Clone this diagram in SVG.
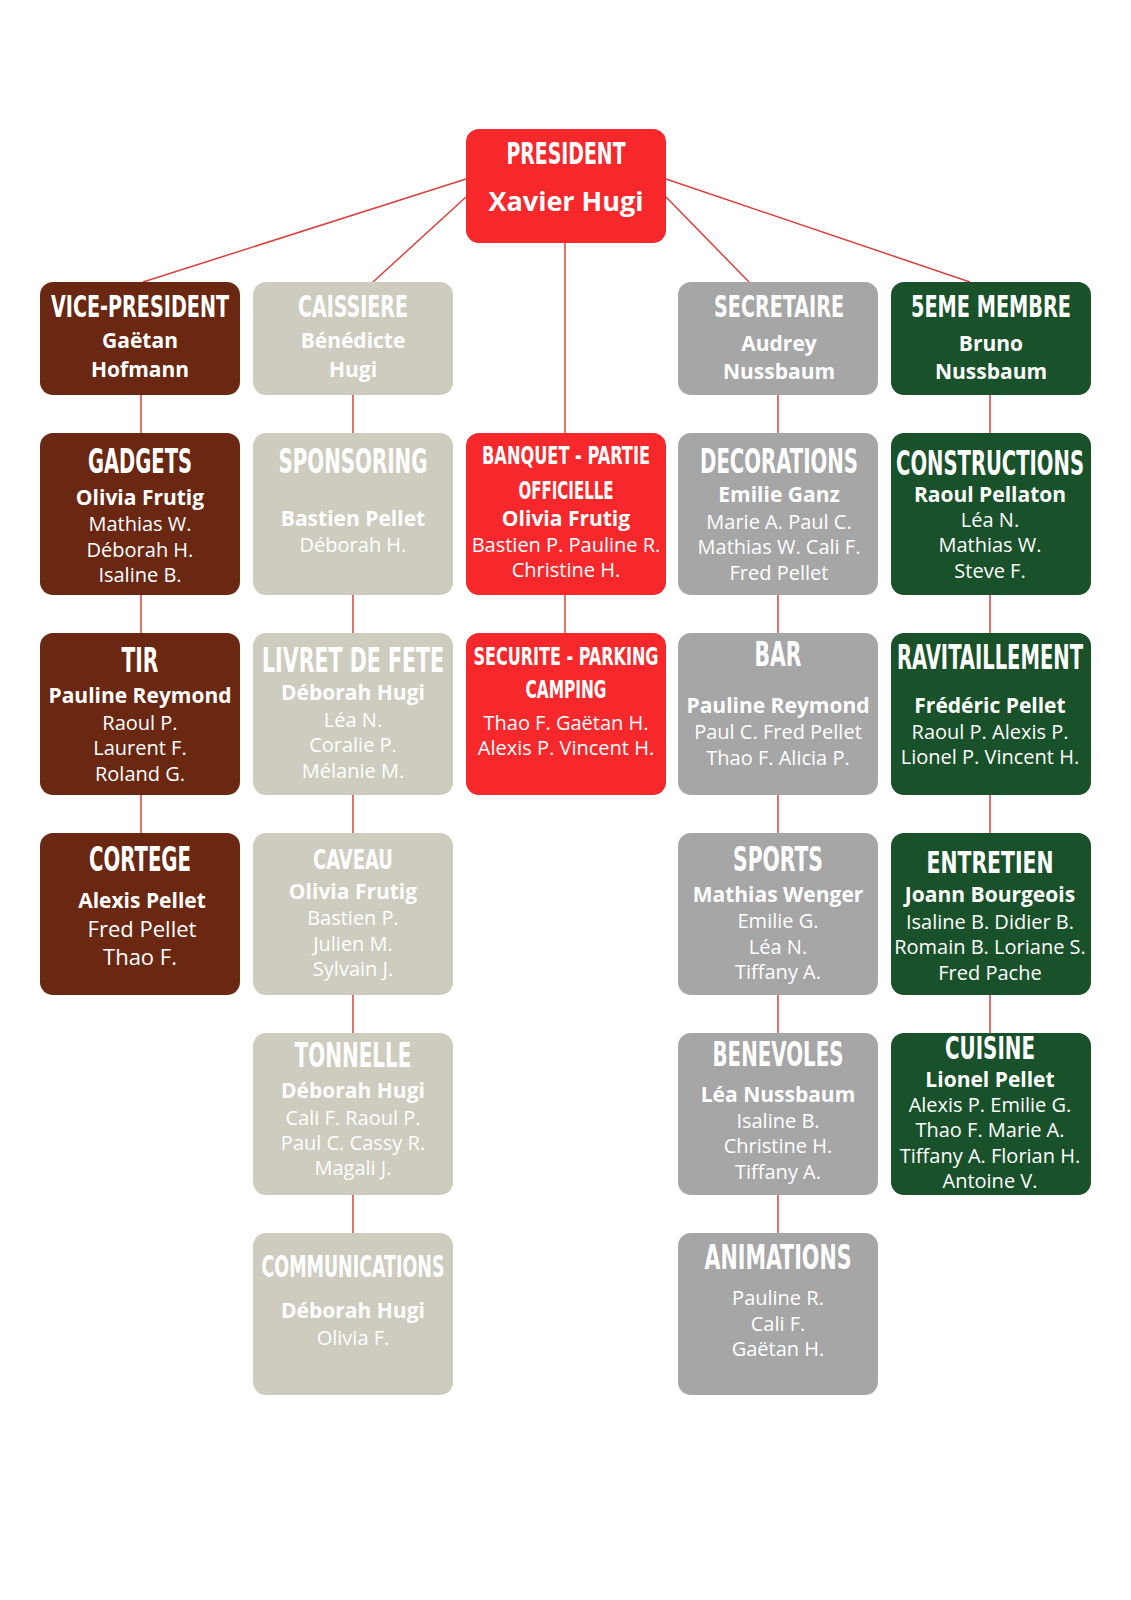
<svg xmlns="http://www.w3.org/2000/svg" width="1131" height="1600" viewBox="0 0 1131 1600">
<style>
.bg{fill:#ffffff}
.brown{fill:#6a2711}
.beige{fill:#cdccbe}
.red{fill:#f7282b}
.gray{fill:#a6a6a6}
.green{fill:#18512a}
.h{font-family:'DejaVu Sans Condensed','Liberation Sans Narrow',sans-serif;font-weight:bold;fill:#ffffff;text-anchor:middle;font-size:33px}
.hs{font-size:30px}
.hx{font-size:24px}
.b{font-family:'Open Sans','DejaVu Sans',sans-serif;font-weight:700;font-size:21px;fill:#ffffff;text-anchor:middle}
.r{font-family:'Open Sans','DejaVu Sans',sans-serif;font-weight:400;font-size:20px;fill:#ffffff;text-anchor:middle}
.big{font-size:22px}
.conn{stroke:#d9403c;stroke-width:1.5;fill:none}
</style>
<rect class="bg" x="0" y="0" width="1131" height="1600"/>
<g id="connectors">
<line class="conn" x1="466" y1="179" x2="143" y2="282"/>
<line class="conn" x1="466" y1="197" x2="373" y2="282"/>
<line class="conn" x1="666" y1="179" x2="970" y2="282"/>
<line class="conn" x1="666" y1="197" x2="749" y2="282"/>
<line class="conn" x1="565" y1="243" x2="565" y2="433"/>
<line class="conn" x1="565" y1="595" x2="565" y2="633"/>
<line class="conn" x1="141" y1="395" x2="141" y2="433"/>
<line class="conn" x1="141" y1="595" x2="141" y2="633"/>
<line class="conn" x1="141" y1="795" x2="141" y2="833"/>
<line class="conn" x1="353" y1="395" x2="353" y2="433"/>
<line class="conn" x1="353" y1="595" x2="353" y2="633"/>
<line class="conn" x1="353" y1="795" x2="353" y2="833"/>
<line class="conn" x1="353" y1="995" x2="353" y2="1033"/>
<line class="conn" x1="353" y1="1195" x2="353" y2="1233"/>
<line class="conn" x1="778" y1="395" x2="778" y2="433"/>
<line class="conn" x1="778" y1="595" x2="778" y2="633"/>
<line class="conn" x1="778" y1="795" x2="778" y2="833"/>
<line class="conn" x1="778" y1="995" x2="778" y2="1033"/>
<line class="conn" x1="778" y1="1195" x2="778" y2="1233"/>
<line class="conn" x1="990" y1="395" x2="990" y2="433"/>
<line class="conn" x1="990" y1="595" x2="990" y2="633"/>
<line class="conn" x1="990" y1="795" x2="990" y2="833"/>
<line class="conn" x1="990" y1="995" x2="990" y2="1033"/>
</g>

<g id="president">
<rect class="red" x="466" y="129" width="200" height="114" rx="13"/>
<text class="h hs" x="566" y="164" textLength="119" lengthAdjust="spacingAndGlyphs">PRESIDENT</text>
<text class="b" x="566" y="211" style="font-size:27px">Xavier Hugi</text>
</g>

<g id="vice-president">
<rect class="brown" x="40" y="282" width="200" height="113" rx="13"/>
<text class="h" style="font-size:19.4px" transform="translate(140,317) scale(1,1.55)" x="0" y="0" textLength="178" lengthAdjust="spacingAndGlyphs">VICE-PRESIDENT</text>
<text class="b" x="140" y="348">Gaëtan</text>
<text class="b" x="140" y="377">Hofmann</text>
</g>

<g id="caissiere">
<rect class="beige" x="253" y="282" width="200" height="113" rx="13"/>
<text class="h hs" x="353" y="317" textLength="110" lengthAdjust="spacingAndGlyphs">CAISSIERE</text>
<text class="b" x="353" y="348">Bénédicte</text>
<text class="b" x="353" y="377">Hugi</text>
</g>

<g id="secretaire">
<rect class="gray" x="678" y="282" width="200" height="113" rx="13"/>
<text class="h hs" x="779" y="317" textLength="130" lengthAdjust="spacingAndGlyphs">SECRETAIRE</text>
<text class="b" x="779" y="351">Audrey</text>
<text class="b" x="779" y="379">Nussbaum</text>
</g>

<g id="cinquieme-membre">
<rect class="green" x="891" y="282" width="200" height="113" rx="13"/>
<text class="h" style="font-size:22px" transform="translate(991,317) scale(1,1.364)" x="0" y="0" textLength="160" lengthAdjust="spacingAndGlyphs">5EME MEMBRE</text>
<text class="b" x="991" y="351">Bruno</text>
<text class="b" x="991" y="379">Nussbaum</text>
</g>

<g id="gadgets">
<rect class="brown" x="40" y="433" width="200" height="162" rx="13"/>
<text class="h" x="140" y="473" textLength="104" lengthAdjust="spacingAndGlyphs">GADGETS</text>
<text class="b" x="140" y="505">Olivia Frutig</text>
<text class="r" x="140" y="531">Mathias W.</text>
<text class="r" x="140" y="557">Déborah H.</text>
<text class="r" x="140" y="582">Isaline B.</text>
</g>

<g id="sponsoring">
<rect class="beige" x="253" y="433" width="200" height="162" rx="13"/>
<text class="h" style="font-size:22.6px" transform="translate(353,473) scale(1,1.46)" x="0" y="0" textLength="149" lengthAdjust="spacingAndGlyphs">SPONSORING</text>
<text class="b" x="353" y="526">Bastien Pellet</text>
<text class="r" x="353" y="552">Déborah H.</text>
</g>

<g id="banquet">
<rect class="red" x="466" y="433" width="200" height="162" rx="13"/>
<text class="h" style="font-size:16px" transform="translate(566,464) scale(1,1.5)" x="0" y="0" textLength="168" lengthAdjust="spacingAndGlyphs">BANQUET - PARTIE</text>
<text class="h hx" x="566" y="499" textLength="95" lengthAdjust="spacingAndGlyphs">OFFICIELLE</text>
<text class="b" x="566" y="526">Olivia Frutig</text>
<text class="r" x="566" y="552">Bastien P. Pauline R.</text>
<text class="r" x="566" y="577">Christine H.</text>
</g>

<g id="decorations">
<rect class="gray" x="678" y="433" width="200" height="162" rx="13"/>
<text class="h" style="font-size:21.8px" transform="translate(779,473) scale(1,1.514)" x="0" y="0" textLength="158" lengthAdjust="spacingAndGlyphs">DECORATIONS</text>
<text class="b" x="779" y="502">Emilie Ganz</text>
<text class="r" x="779" y="529">Marie A. Paul C.</text>
<text class="r" x="779" y="554">Mathias W. Cali F.</text>
<text class="r" x="779" y="580">Fred Pellet</text>
</g>

<g id="constructions">
<rect class="green" x="891" y="433" width="200" height="162" rx="13"/>
<text class="h" style="font-size:21.9px" transform="translate(990,475) scale(1,1.507)" x="0" y="0" textLength="188" lengthAdjust="spacingAndGlyphs">CONSTRUCTIONS</text>
<text class="b" x="990" y="502">Raoul Pellaton</text>
<text class="r" x="990" y="527">Léa N.</text>
<text class="r" x="990" y="552">Mathias W.</text>
<text class="r" x="990" y="578">Steve F.</text>
</g>

<g id="tir">
<rect class="brown" x="40" y="633" width="200" height="162" rx="13"/>
<text class="h" x="140" y="672" textLength="37" lengthAdjust="spacingAndGlyphs">TIR</text>
<text class="b" x="140" y="703">Pauline Reymond</text>
<text class="r" x="140" y="730">Raoul P.</text>
<text class="r" x="140" y="755">Laurent F.</text>
<text class="r" x="140" y="781">Roland G.</text>
</g>

<g id="livret-de-fete">
<rect class="beige" x="253" y="633" width="200" height="162" rx="13"/>
<text class="h" style="font-size:19.7px" transform="translate(353,672) scale(1,1.675)" x="0" y="0" textLength="182" lengthAdjust="spacingAndGlyphs">LIVRET DE FETE</text>
<text class="b" x="353" y="700">Déborah Hugi</text>
<text class="r" x="353" y="727">Léa N.</text>
<text class="r" x="353" y="752">Coralie P.</text>
<text class="r" x="353" y="778">Mélanie M.</text>
</g>

<g id="securite">
<rect class="red" x="466" y="633" width="200" height="162" rx="13"/>
<text class="h" style="font-size:15.6px" transform="translate(566,665) scale(1,1.6)" x="0" y="0" textLength="185" lengthAdjust="spacingAndGlyphs">SECURITE - PARKING</text>
<text class="h hx" x="566" y="698" textLength="81" lengthAdjust="spacingAndGlyphs">CAMPING</text>
<text class="r" x="566" y="730">Thao F. Gaëtan H.</text>
<text class="r" x="566" y="755">Alexis P. Vincent H.</text>
</g>

<g id="bar">
<rect class="gray" x="678" y="633" width="200" height="162" rx="13"/>
<text class="h" x="778" y="666" textLength="47" lengthAdjust="spacingAndGlyphs">BAR</text>
<text class="b" x="778" y="713">Pauline Reymond</text>
<text class="r" x="778" y="739">Paul C. Fred Pellet</text>
<text class="r" x="778" y="765">Thao F. Alicia P.</text>
</g>

<g id="ravitaillement">
<rect class="green" x="891" y="633" width="200" height="162" rx="13"/>
<text class="h" style="font-size:20.1px" transform="translate(990,669) scale(1,1.642)" x="0" y="0" textLength="186" lengthAdjust="spacingAndGlyphs">RAVITAILLEMENT</text>
<text class="b" x="990" y="713">Frédéric Pellet</text>
<text class="r" x="990" y="739">Raoul P. Alexis P.</text>
<text class="r" x="990" y="764">Lionel P. Vincent H.</text>
</g>

<g id="cortege">
<rect class="brown" x="40" y="833" width="200" height="162" rx="13"/>
<text class="h" x="140" y="871" textLength="102" lengthAdjust="spacingAndGlyphs">CORTEGE</text>
<text class="b" x="142" y="908">Alexis Pellet</text>
<text class="r big" x="142" y="937">Fred Pellet</text>
<text class="r big" x="140" y="965">Thao F.</text>
</g>

<g id="caveau">
<rect class="beige" x="253" y="833" width="200" height="162" rx="13"/>
<text class="h" x="353" y="869" style="font-size:27px" textLength="80" lengthAdjust="spacingAndGlyphs">CAVEAU</text>
<text class="b" x="353" y="899">Olivia Frutig</text>
<text class="r" x="353" y="925">Bastien P.</text>
<text class="r" x="353" y="951">Julien M.</text>
<text class="r" x="353" y="976">Sylvain J.</text>
</g>

<g id="sports">
<rect class="gray" x="678" y="833" width="200" height="162" rx="13"/>
<text class="h" x="778" y="871" textLength="90" lengthAdjust="spacingAndGlyphs">SPORTS</text>
<text class="b" x="778" y="902">Mathias Wenger</text>
<text class="r" x="778" y="928">Emilie G.</text>
<text class="r" x="778" y="954">Léa N.</text>
<text class="r" x="778" y="979">Tiffany A.</text>
</g>

<g id="entretien">
<rect class="green" x="891" y="833" width="200" height="162" rx="13"/>
<text class="h hs" x="990" y="873" textLength="127" lengthAdjust="spacingAndGlyphs">ENTRETIEN</text>
<text class="b" x="990" y="902">Joann Bourgeois</text>
<text class="r" x="990" y="929">Isaline B. Didier B.</text>
<text class="r" x="990" y="954">Romain B. Loriane S.</text>
<text class="r" x="990" y="980">Fred Pache</text>
</g>

<g id="tonnelle">
<rect class="beige" x="253" y="1033" width="200" height="162" rx="13"/>
<text class="h" x="353" y="1067" textLength="117" lengthAdjust="spacingAndGlyphs">TONNELLE</text>
<text class="b" x="353" y="1098">Déborah Hugi</text>
<text class="r" x="353" y="1125">Cali F. Raoul P.</text>
<text class="r" x="353" y="1150">Paul C. Cassy R.</text>
<text class="r" x="353" y="1175">Magali J.</text>
</g>

<g id="benevoles">
<rect class="gray" x="678" y="1033" width="200" height="162" rx="13"/>
<text class="h" x="778" y="1066" textLength="131" lengthAdjust="spacingAndGlyphs">BENEVOLES</text>
<text class="b" x="778" y="1102">Léa Nussbaum</text>
<text class="r" x="778" y="1128">Isaline B.</text>
<text class="r" x="778" y="1153">Christine H.</text>
<text class="r" x="778" y="1179">Tiffany A.</text>
</g>

<g id="cuisine">
<rect class="green" x="891" y="1033" width="200" height="162" rx="13"/>
<text class="h" style="font-size:21px" transform="translate(990,1059) scale(1,1.5)" x="0" y="0" textLength="90" lengthAdjust="spacingAndGlyphs">CUISINE</text>
<text class="b" x="990" y="1087">Lionel Pellet</text>
<text class="r" x="990" y="1112">Alexis P. Emilie G.</text>
<text class="r" x="990" y="1137">Thao F. Marie A.</text>
<text class="r" x="990" y="1163">Tiffany A. Florian H.</text>
<text class="r" x="990" y="1188">Antoine V.</text>
</g>

<g id="communications">
<rect class="beige" x="253" y="1233" width="200" height="162" rx="13"/>
<text class="h" style="font-size:19.8px" transform="translate(353,1277) scale(1,1.515)" x="0" y="0" textLength="183" lengthAdjust="spacingAndGlyphs">COMMUNICATIONS</text>
<text class="b" x="353" y="1318">Déborah Hugi</text>
<text class="r" x="353" y="1345">Olivia F.</text>
</g>

<g id="animations">
<rect class="gray" x="678" y="1233" width="200" height="162" rx="13"/>
<text class="h" x="778" y="1269" textLength="147" lengthAdjust="spacingAndGlyphs">ANIMATIONS</text>
<text class="r" x="778" y="1305">Pauline R.</text>
<text class="r" x="778" y="1331">Cali F.</text>
<text class="r" x="778" y="1356">Gaëtan H.</text>
</g>
</svg>
